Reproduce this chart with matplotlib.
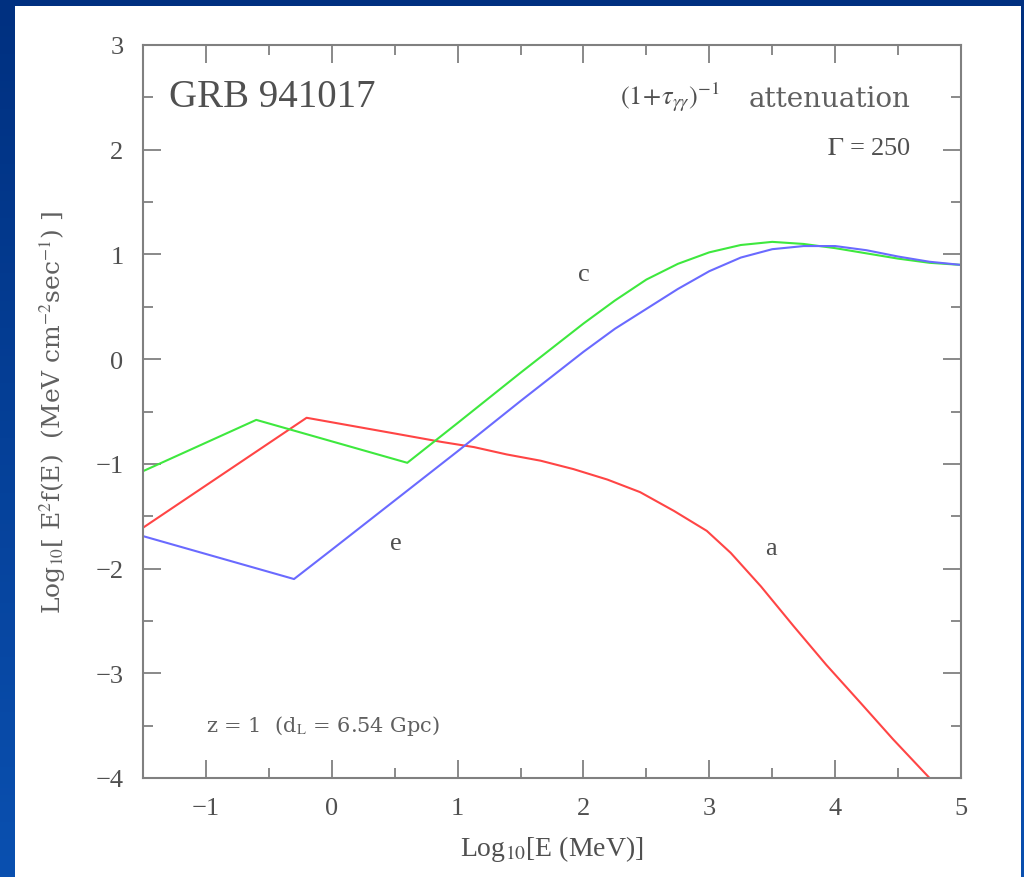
import numpy as np
import matplotlib
matplotlib.use("Agg")
import matplotlib.pyplot as plt
from matplotlib.patches import Rectangle

plt.rcParams['font.family'] = ['Liberation Serif', 'DejaVu Serif']
plt.rcParams['mathtext.fontset'] = 'stix'

# curve a (red)
a_x = [-1.5, -0.2, 0.5, 0.87, 1.13, 1.39, 1.66, 1.92, 2.19, 2.45, 2.72, 2.98, 3.17,
       3.41, 3.67, 3.93, 4.2, 4.46, 4.75]
a_y = [-1.61, -0.56, -0.71, -0.79, -0.84, -0.91, -0.97, -1.05, -1.15, -1.27, -1.45, -1.64, -1.85,
       -2.17, -2.55, -2.92, -3.28, -3.63, -4.0]

# curve c (green)
c_x = [-1.5, -0.6, 0.6, 1.0, 1.5, 2.0, 2.25, 2.5, 2.75, 3.0, 3.25, 3.5, 3.75, 4.0, 4.25, 4.5, 4.75, 5.0]
c_y = [-1.07, -0.58, -0.99, -0.61, -0.13, 0.34, 0.56, 0.76, 0.91, 1.02, 1.09, 1.12, 1.10, 1.06, 1.01, 0.96, 0.92, 0.90]

# curve e (blue)
e_x = [-1.5, -0.3, 0.0, 0.5, 1.0, 1.5, 2.0, 2.25, 2.5, 2.75, 3.0, 3.25, 3.5, 3.75, 4.0, 4.25, 4.5, 4.75, 5.0]
e_y = [-1.69, -2.10, -1.82, -1.35, -0.88, -0.40, 0.07, 0.29, 0.48, 0.67, 0.84, 0.97, 1.05, 1.08, 1.08, 1.04, 0.98, 0.93, 0.90]

labels = {"a": (3.49, -1.80), "c": (2.0, 0.81), "e": (0.51, -1.76)}

xticks = [-1, 0, 1, 2, 3, 4, 5]
yticks = [-4, -3, -2, -1, 0, 1, 2, 3]

fig = plt.figure(figsize=(10.24, 8.78), dpi=100)

# blue slide background
bg = fig.add_axes([0, 0, 1, 1], zorder=-10)
grad = np.linspace(0, 1, 256)[:, None]
bg.imshow(grad, cmap=matplotlib.colors.LinearSegmentedColormap.from_list(
    "slide", ["#003080", "#0a50b0"]), aspect="auto", extent=[0, 1, 0, 1], origin="upper")
bg.add_patch(Rectangle((15 / 1024, 0), (1021 - 15) / 1024, 1 - 7 / 878,
                       facecolor="white", edgecolor="none"))
bg.set_xlim(0, 1)
bg.set_ylim(0, 1)
bg.axis("off")

ax = fig.add_axes([143 / 1024, 1 - 779 / 878, 818 / 1024, 733 / 878])
ax.set_facecolor("none")

ax.plot(a_x, a_y, color="#ff4545", lw=1.5)
ax.plot(c_x, c_y, color="#3ee83e", lw=1.5)
ax.plot(e_x, e_y, color="#6a6aff", lw=1.5)

tc = "#505050"
for k, (x, y) in labels.items():
    ax.text(x, y, k, fontsize=19, color=tc, ha="center", va="center")

ax.text(-1.29, 2.51, "GRB 941017", fontsize=28, color=tc, va="center", ha="left")
ax.text(3.08, 2.51, r"$(1\!+\!\tau_{\gamma\gamma})^{-1}$", fontsize=19,
        color=tc, va="center", ha="right")
ax.text(4.6, 2.49, "attenuation", fontsize=20, family="DejaVu Serif",
        color="#606060", va="center", ha="right")
ax.text(4.6, 2.02, r"$\Gamma$ = 250", fontsize=19, color=tc, va="center", ha="right")
ax.text(-1.0, -3.49, r"z = 1  (d$_\mathrm{L}$ = 6.54 Gpc)", fontsize=15,
        family="DejaVu Serif", color="#606060", va="center", ha="left")

ax.set_xlim(-1.5, 5)
ax.set_ylim(-4, 3)
ax.set_xticks(xticks)
ax.set_yticks(yticks)
ax.set_xticks(np.arange(-1.5, 5.01, 0.5), minor=True)
ax.set_yticks(np.arange(-4, 3.01, 0.5), minor=True)
ax.set_xticklabels([str(t).replace("-", "\u2212") for t in xticks])
ax.set_yticklabels([str(t).replace("-", "\u2212") for t in yticks])

ax.tick_params(which="both", direction="in", top=True, right=True, color="#808080",
               width=1.3, labelsize=19, labelcolor=tc)
ax.tick_params(which="major", length=13, pad=14)
ax.tick_params(which="minor", length=7)
for s in ax.spines.values():
    s.set_color("#808080")
    s.set_linewidth(1.5)

ax.set_xlabel(r"Log$_{10}$[E (MeV)]", fontsize=20, color=tc, labelpad=10)
ax.set_ylabel(r"Log$_{10}$[ E$^2$f(E)  (MeV cm$^{-2}$sec$^{-1}$) ]", fontsize=18,
              family="DejaVu Serif", color="#606060", labelpad=20)

fig.savefig("out.png", dpi=100)
